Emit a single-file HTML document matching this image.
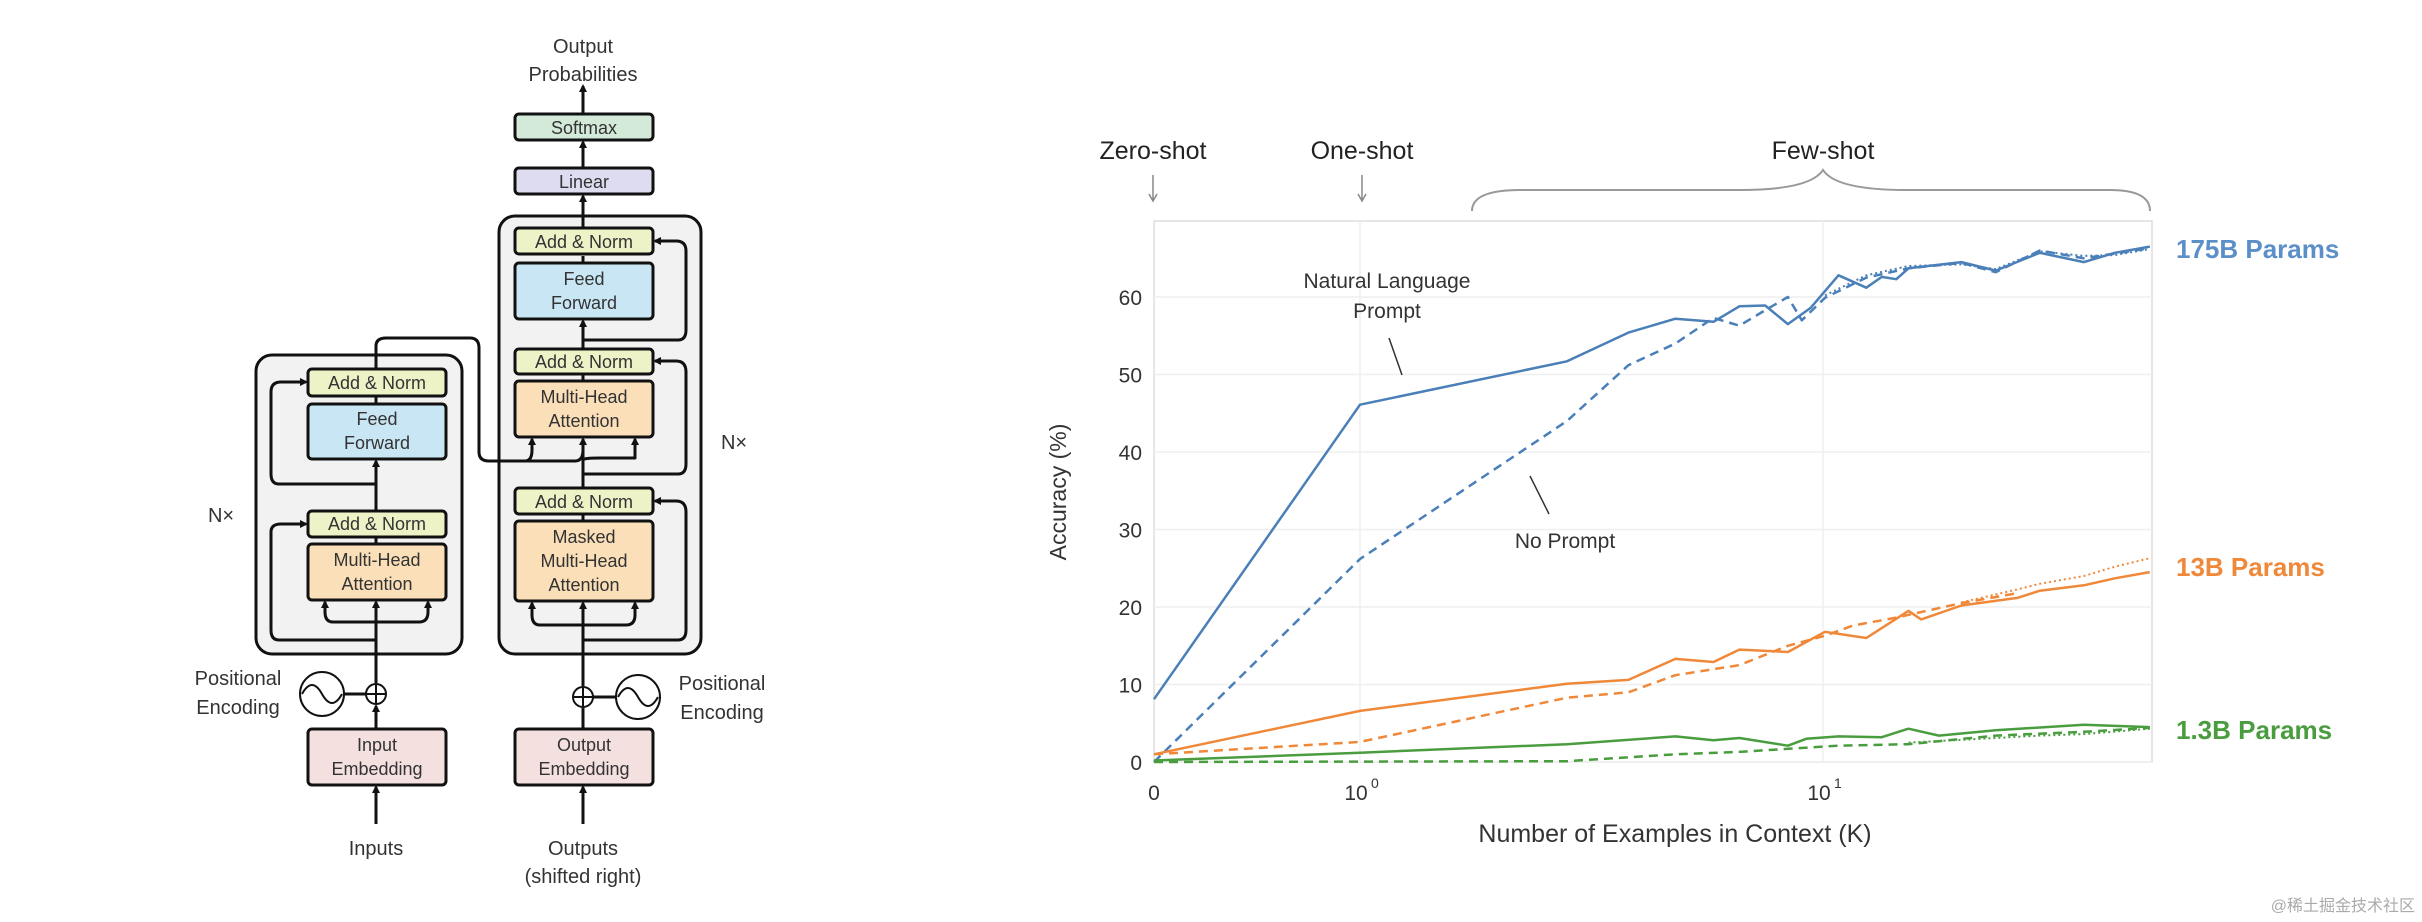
<!DOCTYPE html>
<html><head><meta charset="utf-8">
<style>
html,body{margin:0;padding:0;background:#fff;}
svg{display:block;font-family:"Liberation Sans","Noto Sans CJK SC",sans-serif;}
.bt{font-size:18px;fill:#333;text-anchor:middle;}
.lbl{font-size:20px;fill:#333;text-anchor:middle;}
</style></head>
<body>
<svg id="root" width="2422" height="922" viewBox="0 0 2422 922" xmlns="http://www.w3.org/2000/svg">
<defs>
<marker id="ah" markerWidth="8" markerHeight="8" refX="6" refY="4" orient="auto" markerUnits="userSpaceOnUse"><path d="M0,0 L8,4 L0,8 Z" fill="#111"/></marker>
</defs>
<g stroke-linejoin="round">
  <text class="lbl" x="583" y="53">Output</text>
  <text class="lbl" x="583" y="81">Probabilities</text>
  <rect x="256" y="355" width="206" height="299" rx="16" fill="#f2f2f2" stroke="#111" stroke-width="3"/>
  <rect x="499" y="216" width="202" height="438" rx="16" fill="#f2f2f2" stroke="#111" stroke-width="3"/>
  <g fill="none" stroke="#111" stroke-width="3">
    <line x1="583" y1="114" x2="583" y2="86" marker-end="url(#ah)"/>
    <line x1="583" y1="168" x2="583" y2="142" marker-end="url(#ah)"/>
    <line x1="583" y1="228" x2="583" y2="196" marker-end="url(#ah)"/>
    <line x1="583" y1="263" x2="583" y2="256"/>
    <line x1="583" y1="349" x2="583" y2="321" marker-end="url(#ah)"/>
    <line x1="583" y1="381" x2="583" y2="374"/>
    <line x1="583" y1="488" x2="583" y2="439"/>
    <path d="M583,460 Q583,458 600,458 L635,458 L635,439" marker-end="url(#ah)"/>
    <line x1="583" y1="521" x2="583" y2="514"/>
    <line x1="583" y1="729" x2="583" y2="708"/>
    <line x1="583" y1="686" x2="583" y2="603" marker-end="url(#ah)"/>
    <line x1="583" y1="824" x2="583" y2="787" marker-end="url(#ah)"/>
    <path d="M583,625 L540,625 Q532,625 532,615 L532,603" marker-end="url(#ah)"/>
    <path d="M583,625 L626,625 Q635,625 635,615 L635,603" marker-end="url(#ah)"/>
    <path d="M583,640 L678,640 Q686,640 686,630 L686,512 Q686,501 676,501 L655,501" marker-end="url(#ah)"/>
    <path d="M583,474 L678,474 Q686,474 686,464 L686,372 Q686,361 676,361 L655,361" marker-end="url(#ah)"/>
    <path d="M583,340 L678,340 Q686,340 686,330 L686,251 Q686,241 676,241 L655,241" marker-end="url(#ah)"/>
    <path d="M376,369 L376,346 Q376,338 386,338 L470,338 Q479,338 479,348 L479,452 Q479,461 489,461 L525,461 Q532,461 532,450 L532,439" marker-end="url(#ah)"/>
    <path d="M520,461 L575,461 Q583,461 583,450 L583,439" marker-end="url(#ah)"/>
    <line x1="376" y1="404" x2="376" y2="396"/>
    <line x1="376" y1="511" x2="376" y2="461" marker-end="url(#ah)"/>
    <line x1="376" y1="544" x2="376" y2="537"/>
    <line x1="376" y1="729" x2="376" y2="706" marker-end="url(#ah)"/>
    <line x1="376" y1="683" x2="376" y2="602" marker-end="url(#ah)"/>
    <line x1="376" y1="824" x2="376" y2="787" marker-end="url(#ah)"/>
    <path d="M376,622 L333,622 Q325,622 325,612 L325,602" marker-end="url(#ah)"/>
    <path d="M376,622 L419,622 Q428,622 428,612 L428,602" marker-end="url(#ah)"/>
    <path d="M376,640 L279,640 Q271,640 271,630 L271,532 Q271,524 281,524 L306,524" marker-end="url(#ah)"/>
    <path d="M376,484 L279,484 Q271,484 271,474 L271,392 Q271,382 281,382 L306,382" marker-end="url(#ah)"/>
    <line x1="344" y1="694" x2="366" y2="694"/>
    <line x1="593" y1="697" x2="616" y2="697"/>
  </g>
  <g stroke="#111" stroke-width="3">
    <rect x="515" y="114" width="138" height="26" rx="4" fill="#d4ead9"/>
    <rect x="515" y="168" width="138" height="26" rx="4" fill="#dedcf0"/>
    <rect x="515" y="228" width="138" height="26" rx="4" fill="#eef3c7"/>
    <rect x="515" y="263" width="138" height="56" rx="4" fill="#c9e6f4"/>
    <rect x="515" y="349" width="138" height="25" rx="4" fill="#eef3c7"/>
    <rect x="515" y="381" width="138" height="56" rx="4" fill="#fadfb8"/>
    <rect x="515" y="488" width="138" height="26" rx="4" fill="#eef3c7"/>
    <rect x="515" y="521" width="138" height="80" rx="4" fill="#fadfb8"/>
    <rect x="308" y="369" width="138" height="27" rx="4" fill="#eef3c7"/>
    <rect x="308" y="404" width="138" height="55" rx="4" fill="#c9e6f4"/>
    <rect x="308" y="511" width="138" height="26" rx="4" fill="#eef3c7"/>
    <rect x="308" y="544" width="138" height="56" rx="4" fill="#fadfb8"/>
    <rect x="308" y="729" width="138" height="56" rx="4" fill="#f5e0e0"/>
    <rect x="515" y="729" width="138" height="56" rx="4" fill="#f5e0e0"/>
  </g>
  <g fill="#fff" stroke="#111" stroke-width="2">
    <circle cx="322" cy="694" r="22"/>
    <path d="M302,694 Q312,676 322,694 Q332,712 342,694" fill="none"/>
    <circle cx="376" cy="694" r="10"/>
    <path d="M366,694 H386 M376,684 V704" fill="none"/>
    <circle cx="638" cy="697" r="22"/>
    <path d="M618,697 Q628,679 638,697 Q648,715 658,697" fill="none"/>
    <circle cx="583" cy="697" r="10"/>
    <path d="M573,697 H593 M583,687 V707" fill="none"/>
  </g>
  <text class="bt" x="584" y="134">Softmax</text>
  <text class="bt" x="584" y="188">Linear</text>
  <text class="bt" x="584" y="248">Add &amp; Norm</text>
  <text class="bt" x="584" y="285">Feed</text><text class="bt" x="584" y="309">Forward</text>
  <text class="bt" x="584" y="368">Add &amp; Norm</text>
  <text class="bt" x="584" y="403">Multi-Head</text><text class="bt" x="584" y="427">Attention</text>
  <text class="bt" x="584" y="508">Add &amp; Norm</text>
  <text class="bt" x="584" y="543">Masked</text><text class="bt" x="584" y="567">Multi-Head</text><text class="bt" x="584" y="591">Attention</text>
  <text class="bt" x="377" y="389">Add &amp; Norm</text>
  <text class="bt" x="377" y="425">Feed</text><text class="bt" x="377" y="449">Forward</text>
  <text class="bt" x="377" y="530">Add &amp; Norm</text>
  <text class="bt" x="377" y="566">Multi-Head</text><text class="bt" x="377" y="590">Attention</text>
  <text class="bt" x="377" y="751">Input</text><text class="bt" x="377" y="775">Embedding</text>
  <text class="bt" x="584" y="751">Output</text><text class="bt" x="584" y="775">Embedding</text>
  <text class="lbl" x="238" y="685">Positional</text>
  <text class="lbl" x="238" y="714">Encoding</text>
  <text class="lbl" x="722" y="690">Positional</text>
  <text class="lbl" x="722" y="719">Encoding</text>
  <text class="lbl" x="221" y="522">N×</text>
  <text class="lbl" x="734" y="449">N×</text>
  <text class="lbl" x="376" y="855">Inputs</text>
  <text class="lbl" x="583" y="855">Outputs</text>
  <text class="lbl" x="583" y="883">(shifted right)</text>
</g>
<g id="chart"></g>
<text x="2415" y="911" text-anchor="end" font-size="16" fill="#aaa">@稀土掘金技术社区</text>
</svg>
<script>
const yTicks = [0,10,20,30,40,50,60];
const blueSolidK = [0,1,2.8,3.8,4.8,5.8,6.6,7.5,8.4,9.4,10.8,12.4,13.4,14.4,15.3,19.9,23.6,29.4,36.6,42.7,50.8];
const blueSolidV = [8.1,46.1,51.7,55.4,57.2,56.8,58.8,58.9,56.5,58.6,62.8,61.2,62.6,62.3,63.7,64.5,63.4,65.7,64.5,65.7,66.5];
const blueDashK = [0,1,2.8,3.8,4.8,5.8,6.6,7.5,8.4,9.0,10.1,12.4,15.3,19.9,23.6,29.4,36.6,50.8];
const blueDashV = [0,26.2,44,51.2,54,57.3,56.3,58.3,60,57,59.9,62.5,63.7,64.4,63.2,66,65,66.3];
const blueDotK = [10.1,12.4,15.3,19.9,23.6,29.4,36.6,42.7,50.8];
const blueDotV = [60.2,62.8,64,64.2,63.6,65.9,65.3,65.4,66.2];
const orSolidK = [0,1,2.8,3.8,4.8,5.8,6.6,8.4,10.1,12.4,15.3,16.3,19.9,26.4,29.4,36.6,42.7,50.8];
const orSolidV = [1,6.6,10.1,10.6,13.3,12.9,14.5,14.2,16.8,16,19.5,18.4,20.2,21.2,22.1,22.8,23.7,24.5];
const orDashK = [0,1,2.8,3.8,4.8,6.6,8.4,10.1,11.6,14.3,19.9,26.4];
const orDashV = [1,2.6,8.3,9,11.2,12.5,15,16.3,17.6,18.6,20.5,21.8];
const orDotK = [19.9,26.4,29.4,36.6,42.7,50.8];
const orDotV = [20.6,22.3,23,24,25.2,26.3];
const grSolidK = [0,1,2.8,4.8,5.8,6.6,8.4,9.2,10.8,13.4,15.3,17.8,23.6,36.6,50.8];
const grSolidV = [0.2,1.2,2.3,3.3,2.8,3.1,2.1,3,3.3,3.2,4.3,3.4,4.1,4.8,4.5];
const grDashK = [0,2.8,4.8,6.6,8.4,10.8,15.3,23.6,36.6,50.8];
const grDashV = [0,0.1,1,1.3,1.7,2.1,2.3,3.4,3.9,4.4];
const grDotK = [15.3,23.6,29.4,36.6,50.8];
const grDotV = [2.5,3.1,3.4,3.6,4.3];

const X0=1154, X1=1360, DEC=463, XR=2152, YB=762, YT=221, PER10=77.5;
function xs(k){ return k<1 ? X0+(X1-X0)*k : X1+DEC*Math.log10(k); }
function ys(v){ return YB - v*PER10/10; }
const NS='http://www.w3.org/2000/svg';
const g=document.getElementById('chart');
function mk(tag, attrs, parent){ const e=document.createElementNS(NS,tag); for(const k in attrs) e.setAttribute(k,attrs[k]); (parent||g).appendChild(e); return e; }

const bg = mk('rect',{x:X0,y:YT,width:XR-X0,height:YB-YT,fill:'#fff',stroke:'#ddd','stroke-width':1.5});


yTicks.forEach(t=>{
  const l=mk('line',{x1:X0,x2:XR,y1:ys(t),y2:ys(t),stroke:'#efefef','stroke-width':1.5});
  
  
  const tx=mk('text',{x:1142,y:ys(t)+8,'text-anchor':'end','font-size':21,fill:'#333'});
  tx.textContent=t;
  
  
});
[1,10].forEach(k=>{
  const l=mk('line',{x1:xs(k),x2:xs(k),y1:YT,y2:YB,stroke:'#efefef','stroke-width':1.5});
  
  
});
const xt0=mk('text',{x:X0,y:800,'text-anchor':'middle','font-size':21,fill:'#333'}); xt0.textContent='0';


[['10','0',1],['10','1',10]].forEach(([b,e,k])=>{
  const t=mk('text',{x:xs(k)-4,y:800,'text-anchor':'middle','font-size':21,fill:'#333'});
  t.textContent=b;
  
  
  const s=mk('text',{x:xs(k)+11,y:788,'font-size':14,fill:'#333'}); s.textContent=e;
});
const xtitle=mk('text',{x:1675,y:842,'text-anchor':'middle','font-size':25,fill:'#333'});
xtitle.textContent='Number of Examples in Context  (K)';


const ytitle=mk('text',{x:0,y:0,'text-anchor':'middle','font-size':23,fill:'#333',transform:'translate(1066,492) rotate(-90)'});
ytitle.textContent='Accuracy (%)';



function series(K,V,color,dash,w,name){
  const d=K.map((k,i)=>(i?'L':'M')+xs(k).toFixed(1)+','+ys(V[i]).toFixed(1)).join(' ');
  const p=mk('path',{d:d,fill:'none',stroke:color,'stroke-width':w,'stroke-dasharray':dash,'stroke-linejoin':'round'});
  
  
}
const B='#4a7fb8', O='#f0883a', G='#4a9d3f';
series(blueDotK,blueDotV,B,'2 3',2,'line-175b-dotted');
series(blueDashK,blueDashV,B,'9 6',2.5,'line-175b-no-prompt');
series(blueSolidK,blueSolidV,B,'none',2.5,'line-175b-prompt');
series(orDotK,orDotV,O,'2 3',2,'line-13b-dotted');
series(orDashK,orDashV,O,'9 6',2.5,'line-13b-no-prompt');
series(orSolidK,orSolidV,O,'none',2.5,'line-13b-prompt');
series(grDotK,grDotV,G,'2 3',2,'line-1-3b-dotted');
series(grDashK,grDashV,G,'9 6',2.5,'line-1-3b-no-prompt');
series(grSolidK,grSolidV,G,'none',2.5,'line-1-3b-prompt');

[['175B Params',B,258,'label-175b'],['13B Params',O,576,'label-13b'],['1.3B Params',G,739,'label-1-3b']].forEach(([t,c,y,n])=>{
  const e=mk('text',{x:2176,y:y,'font-size':26,'font-weight':'bold',fill:c==B?'#5b8fc7':c}); e.textContent=t;
  
  
});
[['Zero-shot',1153,'zero-shot-label'],['One-shot',1362,'one-shot-label'],['Few-shot',1823,'few-shot-label']].forEach(([t,x,n])=>{
  const e=mk('text',{x:x,y:159,'text-anchor':'middle','font-size':25,fill:'#222'}); e.textContent=t;
  
  
});
[1153,1362].forEach(x=>{
  const a=mk('path',{d:`M${x},175 V201 M${x-4},194 L${x},201 L${x+4},194`,fill:'none',stroke:'#888','stroke-width':1.5});
  
  
});
const br=mk('path',{d:'M1472,211 Q1472,190 1520,190 L1740,190 Q1810,190 1823,170 Q1836,190 1906,190 L2110,190 Q2150,190 2150,211',fill:'none',stroke:'#999','stroke-width':2});


const a1=mk('text',{x:1387,y:288,'text-anchor':'middle','font-size':21,fill:'#333'}); a1.textContent='Natural Language';


const a2=mk('text',{x:1387,y:318,'text-anchor':'middle','font-size':21,fill:'#333'}); a2.textContent='Prompt';
mk('line',{x1:1389,y1:338,x2:1402,y2:375,stroke:'#333','stroke-width':1.5});
const a3=mk('text',{x:1565,y:548,'text-anchor':'middle','font-size':21,fill:'#333'}); a3.textContent='No Prompt';


mk('line',{x1:1530,y1:476,x2:1549,y2:514,stroke:'#333','stroke-width':1.5});
</script>
</body></html>
